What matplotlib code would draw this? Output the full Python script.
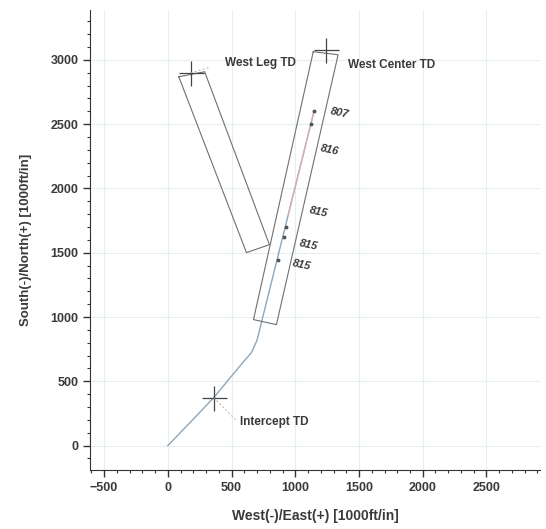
import numpy as np
import matplotlib
matplotlib.use("Agg")
import matplotlib.pyplot as plt
from matplotlib.ticker import MultipleLocator

# well path (West/East, South/North)
path_x = [0, 180, 360, 594, 656, 700, 735, 1148]
path_y = [0, 185, 373, 653, 723, 820, 960, 2605]
# upper reddish part of the path
red_x = [946, 1148]
red_y = [1800, 2605]

# target boxes (corners)
leg_box_x = [86, 289, 797, 617, 86]
leg_box_y = [2869, 2908, 1563, 1501, 2869]
center_box_x = [1141, 1336, 852, 672, 1141]
center_box_y = [3064, 3040, 941, 980, 3064]

# TD crosses
td_names = ["West Leg TD", "West Center TD", "Intercept TD"]
td_x = [180, 1242, 360]
td_y = [2900, 3080, 373]
td_label_x = [445, 1414, 563]
td_label_y = [2978, 2963, 187]

# survey points and their labels
pt_x = [1148, 1125, 930, 914, 867]
pt_y = [2605, 2504, 1703, 1625, 1446]
tag_text = ["807", "816", "815", "815", "815"]
tag_x = [1266, 1188, 1100, 1023, 969]
tag_y = [2590, 2302, 1820, 1563, 1407]

plt.rcParams['font.family'] = ['Liberation Sans', 'DejaVu Sans']
txtc = "#3a3a3a"

fig = plt.figure(figsize=(5.46, 5.29), dpi=100)
ax = fig.add_axes([0.165, 0.1115, 0.824, 0.87])

ax.plot(path_x, path_y, color="#8fa6b8", lw=1.0)
ax.plot(red_x, red_y, color="#e8b0b8", lw=1.0, alpha=0.8)
ax.plot(leg_box_x, leg_box_y, color="#707070", lw=0.8)
ax.plot(center_box_x, center_box_y, color="#707070", lw=0.8)

ax.plot(td_x, td_y, ls="none", marker="+", markersize=18, mew=0.9, color="#444444")
ax.plot(pt_x, pt_y, ls="none", marker="o", markersize=1.8, color="#555555")

# leaders
ax.plot([td_x[0], td_x[0] + 140], [td_y[0], td_y[0] + 40], color="#999999", lw=0.6, ls=(0, (2, 3)))
ax.plot([td_x[2], td_x[2] + 180], [td_y[2], td_y[2] - 180], color="#999999", lw=0.6, ls=(0, (2, 3)))

for i in range(len(td_names)):
    ax.text(td_label_x[i], td_label_y[i], td_names[i], fontsize=8.5, fontweight="bold",
            color=txtc, va="center", ha="left")
for i in range(len(tag_text)):
    ax.text(tag_x[i], tag_y[i], tag_text[i], fontsize=8, fontweight="bold", style="italic",
            color=txtc, va="center", ha="left", rotation=-12)

ax.set_xlim(-610, 2920)
ax.set_ylim(-190, 3390)
ax.set_xticks(np.arange(-500, 3000, 500))
ax.set_yticks(np.arange(0, 3500, 500))
ax.xaxis.set_minor_locator(MultipleLocator(100))
ax.yaxis.set_minor_locator(MultipleLocator(100))
ax.tick_params(which="major", direction="out", length=5, width=1, color="#333333",
               labelsize=9, labelcolor=txtc)
ax.tick_params(which="minor", direction="out", length=2.5, width=0.8, color="#333333")
for lab in ax.get_xticklabels() + ax.get_yticklabels():
    lab.set_fontweight("bold")

ax.spines["top"].set_visible(False)
ax.spines["right"].set_visible(False)
ax.spines["left"].set_color("#333333")
ax.spines["bottom"].set_color("#333333")
ax.grid(True, color="#e6eef0", lw=0.8)
ax.set_axisbelow(True)

ax.set_xlabel("West(-)/East(+) [1000ft/in]", fontsize=10, fontweight="bold", color=txtc, labelpad=11)
ax.set_ylabel("South(-)/North(+) [1000ft/in]", fontsize=9.5, fontweight="bold", color=txtc, labelpad=13)

plt.savefig("out.png", dpi=100)
plt.close()
